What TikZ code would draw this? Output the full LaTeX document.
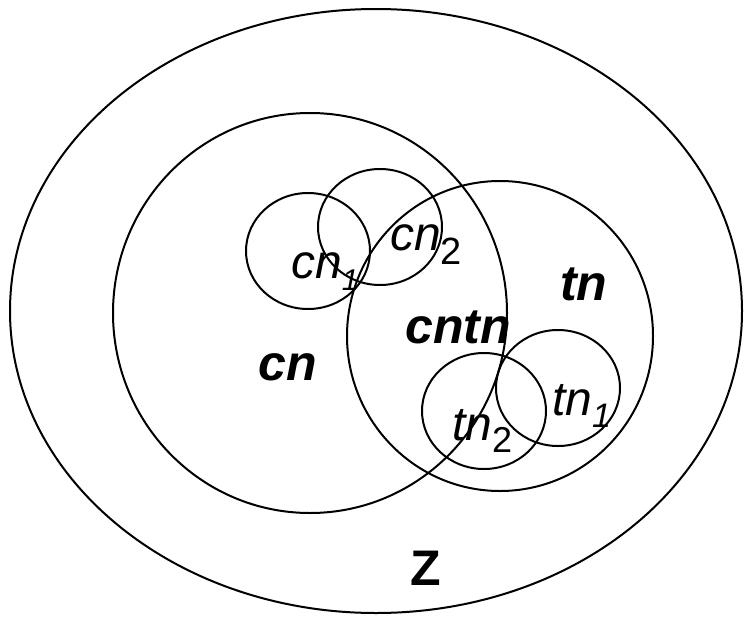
\documentclass[tikz,border=0pt]{standalone}
\usepackage{fontspec}
\setmainfont{Liberation Sans}
\usetikzlibrary{positioning}

\begin{document}
\begin{tikzpicture}[x=1pt,y=-1pt,
  set/.style={draw,line width=2pt},
  lab/.style={anchor=base west,inner sep=0pt,font=\fontsize{48}{50}\selectfont\itshape},
  big/.style={anchor=base west,inner sep=0pt,font=\fontsize{50}{52}\selectfont\bfseries\itshape}]
\useasboundingbox (0,0) rectangle (744,616);
% sets
\draw[set] (376,311) ellipse [x radius=366pt,y radius=302pt];
\draw[set] (310,313) ellipse [x radius=197pt,y radius=200pt];
\draw[set] (500,336) ellipse [x radius=153pt,y radius=155pt];
\draw[set] (308,251) ellipse [x radius=62pt,y radius=58pt];
\draw[set] (380,227) ellipse [x radius=62pt,y radius=58pt];
\draw[set] (558,388) ellipse [x radius=62pt,y radius=58pt];
\draw[set] (484,411) ellipse [x radius=62pt,y radius=58pt];
% labels
\node[big] (cn) at (258,380) {cn};
\node[big] (cntn) at (405,343) {cntn};
\node[big] (tn) at (560,300) {tn};
\node[big] (z) at (410,585) {\upshape Z};
\node[lab] (cn1) at (291,278) {cn\raisebox{-12pt}{\fontsize{30}{30}\selectfont 1}};
\node[lab] (cn2) at (390,250) {cn\raisebox{-14pt}{\fontsize{38}{38}\selectfont\upshape 2}};
\node[lab] (tn1) at (552,415) {tn\raisebox{-12pt}{\fontsize{34}{34}\selectfont 1}};
\node[lab] (tn2) at (452,440) {tn\raisebox{-12pt}{\fontsize{36}{36}\selectfont\upshape 2}};
\end{tikzpicture}
\end{document}
